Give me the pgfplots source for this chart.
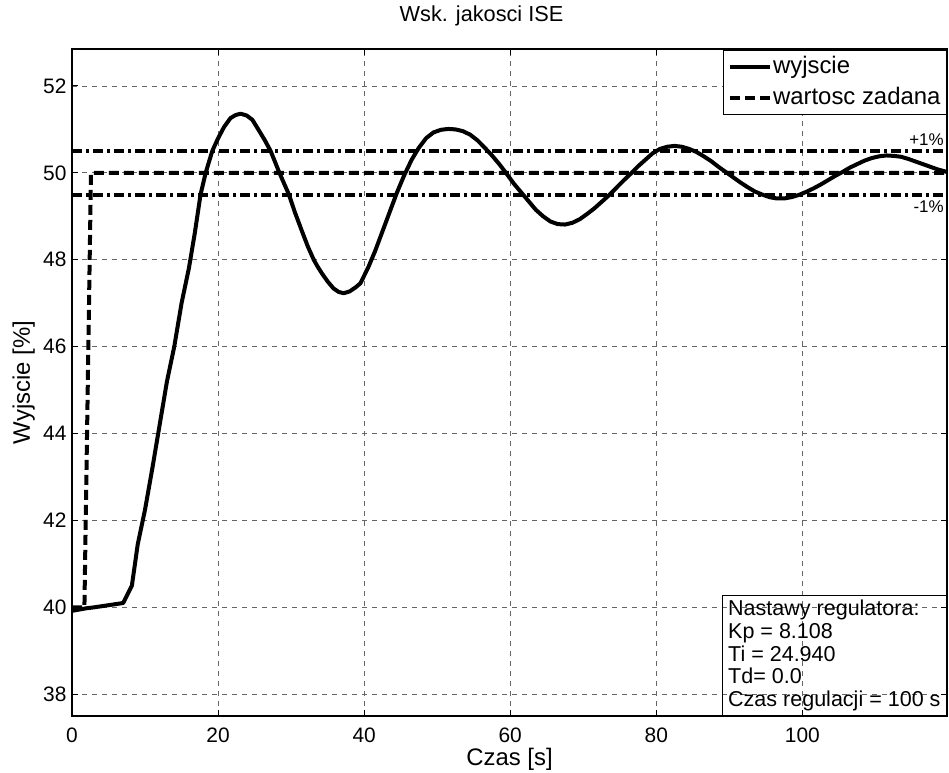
\documentclass[border=0pt]{standalone}
\usepackage{pgfplots}
\pgfplotsset{compat=1.18}
\usepackage{fontspec}
\setmainfont{Liberation Sans}
\begin{document}
\begin{tikzpicture}
\path[use as bounding box] (-36bp,-28.5bp) rectangle (438.5bp,358bp);
\begin{axis}[
  scale only axis, width=437.5bp, height=333.5bp,
  xmin=0, xmax=119.8, ymin=37.5, ymax=52.85,
  xtick={0,20,...,100}, ytick={38,40,...,52},
  grid=major,
  major grid style={black!60, line width=0.4bp, dash pattern=on 2.5bp off 2.5bp},
  tick align=inside, major tick length=3bp,
  axis line style={line width=0.6bp},
  tick style={black, line width=0.5bp},
  font=\fontsize{10.5}{12.6}\selectfont,
  /pgf/number format/assume math mode=true,
  xticklabel style={anchor=base, yshift=-13.3bp, inner sep=0pt},
  yticklabel style={anchor=east, inner sep=0pt, xshift=-2.6bp},
  title={Wsk. jakosci ISE},
  every axis title/.style={at={(axis description cs:0.5,1)}, anchor=base, yshift=13.75bp, xshift=-14bp, inner sep=0pt, font=\fontsize{10.9}{13}\selectfont},
  xlabel={Czas [s]},
  every axis x label/.style={at={(axis description cs:0.5,0)}, anchor=base, yshift=-24.5bp, inner sep=0pt, font=\fontsize{12}{14}\selectfont},
  ylabel={Wyjscie [\%]},
  every axis y label/.style={at={(axis description cs:0,0.5)}, rotate=90, anchor=base, yshift=21bp, inner sep=0pt, font=\fontsize{12}{14}\selectfont},
  legend style={at={(1,1)}, anchor=north east, yshift=-0.5bp, draw=black, line width=0.5bp, fill=white,
    font=\fontsize{12}{14}\selectfont, inner xsep=2.5bp, inner ysep=2bp, row sep=3.1bp,
    nodes={inner sep=0.5bp, text height=8.9bp, text depth=2.5bp}},
  legend cell align=left,
  legend image code/.code={\draw[#1] (0bp,0bp) -- (20bp,0bp);},
]
\addplot[black, line width=2bp, line join=round] coordinates {
(0,39.92) (1,39.95) (2,39.98) (3,40.0) (5,40.05) (7,40.1) (8.2,40.5) (9,41.45) (10,42.25)
(11,43.2) (12,44.2) (13,45.2) (14,46.0) (15,47.0) (16,47.8) (16.8,48.6) (17.6,49.5) (18.3,50.0)
(19.2,50.5) (19.9,50.76) (20.8,51.05) (21.7,51.26) (22.4,51.33) (23.1,51.36) (23.9,51.32)
(24.7,51.22) (25.5,51.0) (26.4,50.75) (27.2,50.5) (28.4,50.0) (29.7,49.5) (30.5,49.1)
(31.5,48.65) (32.3,48.3) (33.1,48.0) (33.6,47.85) (34.2,47.69) (35.0,47.5) (35.8,47.34)
(36.5,47.26) (37.2,47.23) (38.0,47.27) (38.8,47.36) (39.5,47.46) (40.6,47.84) (41.5,48.2)
(42.5,48.65) (43.5,49.1) (44.5,49.55) (45.5,49.95) (46.5,50.3) (47.5,50.58) (48.5,50.8)
(49.5,50.93) (50.5,50.99) (51.5,51.01) (52.5,51.0) (53.5,50.96) (54.5,50.88) (55.5,50.75)
(56.5,50.58) (57.5,50.4) (58.5,50.2) (59.5,49.98) (60.5,49.75) (61.5,49.55) (62.5,49.35)
(63.5,49.15) (64.5,49.0) (65.5,48.88) (66.5,48.82) (67.5,48.81) (68.5,48.85) (69.5,48.93)
(70.5,49.05) (71.5,49.18) (72.5,49.33) (73.5,49.48) (74.5,49.65) (75.5,49.82) (76.5,49.98)
(77.5,50.15) (78.5,50.3) (79.5,50.45) (80.5,50.55) (81.5,50.6) (82.5,50.62) (83.5,50.6)
(84.5,50.55) (85.5,50.48) (86.5,50.38) (87.5,50.27) (88.5,50.14) (89.5,50.02) (90.5,49.9)
(91.5,49.78) (92.5,49.67) (93.5,49.57) (94.5,49.5) (95.5,49.44) (96.5,49.41) (97.5,49.41)
(98.5,49.44) (99.5,49.49) (100.5,49.56) (101.5,49.64) (102.5,49.73) (103.5,49.83)
(104.5,49.93) (105.5,50.02) (106.5,50.12) (107.5,50.2) (108.5,50.28) (109.5,50.34)
(110.5,50.38) (111.5,50.4) (112.5,50.39) (113.5,50.37) (114.5,50.32) (115.5,50.26)
(116.5,50.2) (117.5,50.14) (118.5,50.08) (119.8,50.02)
};
\addlegendentry{wyjscie}
\addplot[black, line width=2bp, dash pattern=on 5bp off 2.5bp] coordinates {
(0,40) (1.7,40) (2.6,50) (119.8,50)
};
\addlegendentry{wartosc zadana}
\addplot[black, line width=2bp, dash pattern=on 5bp off 2bp on 1.5bp off 2bp, forget plot] coordinates {(0,50.5) (119.8,50.5)};
\addplot[black, line width=2bp, dash pattern=on 5bp off 2bp on 1.5bp off 2bp, forget plot] coordinates {(0,49.5) (119.8,49.5)};
\node[anchor=base east, inner sep=0pt, font=\fontsize{8.5}{10}\selectfont] at (axis cs:119.4,50.5) [yshift=3bp] {+1\%};
\node[anchor=north east, inner sep=0pt, font=\fontsize{8.5}{10}\selectfont] at (axis cs:119.4,49.5) [yshift=-2.8bp] {-1\%};
\node[draw=black, line width=0.5bp, anchor=south east, align=left, inner xsep=3bp, inner ysep=2.3bp,
  font=\fontsize{10.8}{11.35}\selectfont] at (rel axis cs:1,0)
  {Nastawy regulatora:\\Kp = 8.108\\Ti = 24.940\\Td= 0.0\\Czas regulacji = 100 s};
\end{axis}
\end{tikzpicture}
\end{document}
